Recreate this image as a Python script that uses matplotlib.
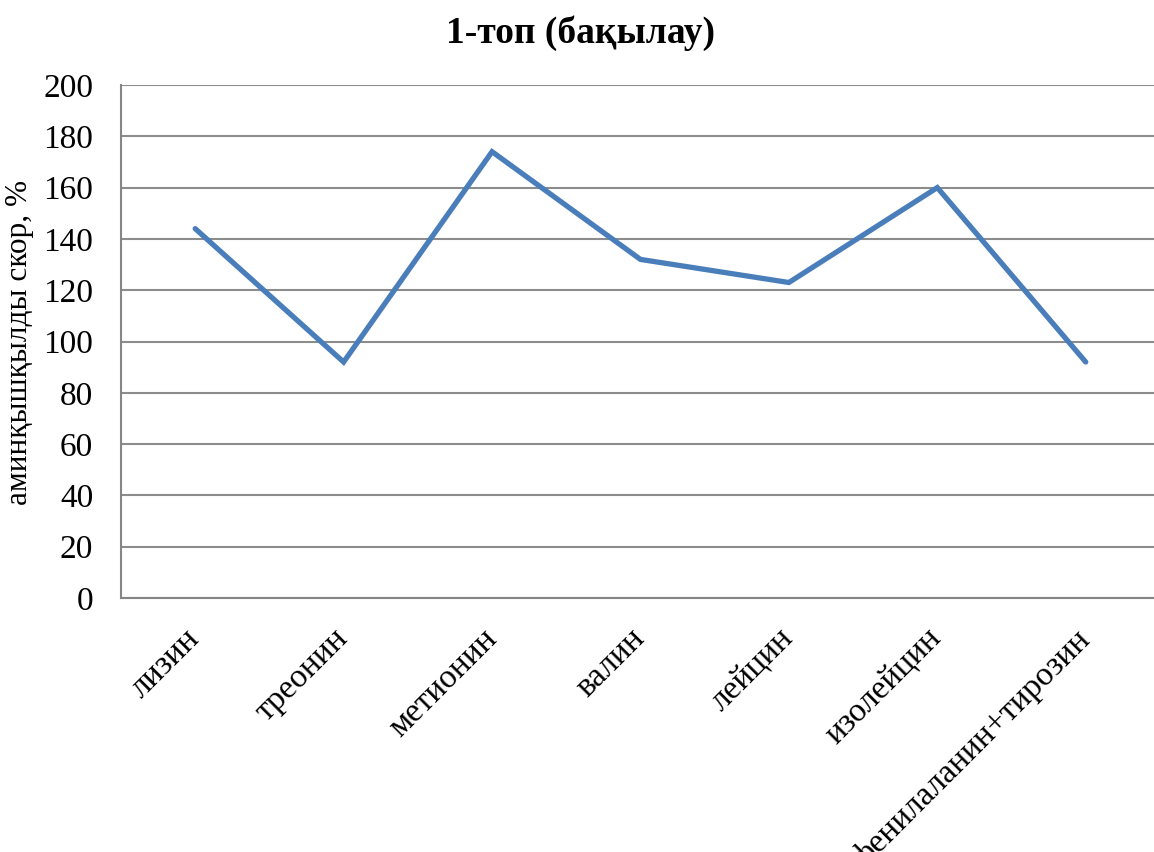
import matplotlib
matplotlib.use("Agg")
import matplotlib.pyplot as plt

categories = ["лизин", "треонин", "метионин", "валин", "лейцин", "изолейцин", "фенилаланин+тирозин"]
values = [144, 92, 174, 132, 123, 160, 92]
yticks = [0, 20, 40, 60, 80, 100, 120, 140, 160, 180, 200]
title = "1-топ (бақылау)"
ylabel = "аминқышқылды скор, %"

plt.rcParams['font.family'] = ['Liberation Serif', 'DejaVu Serif']

fig = plt.figure(figsize=(11.54, 8.52), dpi=100)
ax = fig.add_axes([121/1154, 1-598/852, 1-121/1154, (598-85)/852])

x = list(range(len(categories)))
ax.plot(x, values, color="#4A7EBB", linewidth=3.8, solid_capstyle="round", solid_joinstyle="miter")

ax.set_ylim(0, 200)
ax.set_xlim(-0.5, 6.46)
ax.set_yticks(yticks)
ax.set_yticklabels([str(v) for v in yticks], fontsize=24)
ax.set_xticks(x)
ax.set_xticklabels(categories, fontsize=24, rotation=45, ha="right", va="center", rotation_mode="anchor")
ax.tick_params(axis="y", length=0, pad=20)
ax.tick_params(axis="x", length=0, pad=26)

ax.grid(axis="y", color="#8c8c8c", linewidth=1.5)
ax.set_axisbelow(True)
for s in ["top", "right"]:
    ax.spines[s].set_visible(False)
for s in ["left", "bottom"]:
    ax.spines[s].set_color("#868686")
    ax.spines[s].set_linewidth(1.5)

fig.text(581/1154, 1-33/852, title, ha="center", va="center", fontsize=27, fontweight="bold")
fig.text(20/1154, 1-342/852, ylabel, ha="center", va="center", rotation=90, fontsize=22.5)

fig.savefig("out.png", dpi=100)
